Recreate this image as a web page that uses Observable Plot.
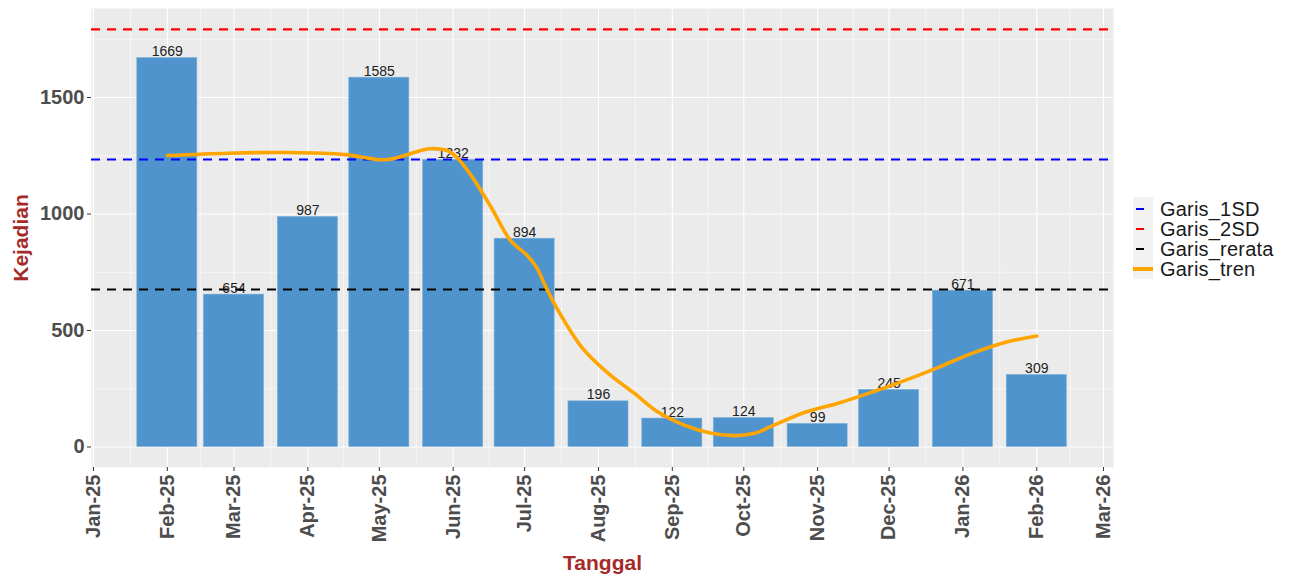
<!DOCTYPE html>
<html>
<head>
<meta charset="utf-8">
<script src="https://cdn.jsdelivr.net/npm/d3@7"></script>
<script src="https://cdn.jsdelivr.net/npm/@observablehq/plot@0.6"></script>
<style>
  body { margin: 0; background: #ffffff; }
  #wrap { position: relative; width: 1289px; height: 576px; font-family: "Liberation Sans", Arial, sans-serif; }
  #wrap svg g[aria-label="x-axis tick label"] text,
  #wrap svg g[aria-label="y-axis tick label"] text { font-weight: bold; fill: #4D4D4D; }
  #wrap svg g[aria-label="x-axis label"] text,
  #wrap svg g[aria-label="y-axis label"] text { font-weight: bold; fill: #A52A2A; font-size: 21px; }
  #legend { position: absolute; left: 1133px; top: 197px; }
  #legend .keybg { position: absolute; left: 0; top: 0; width: 20px; height: 82px; background: #F2F2F2; }
  #legend .row { position: absolute; left: 0; height: 20px; width: 160px; }
  #legend .key { position: absolute; top: 9px; }
  #legend .lab { position: absolute; left: 27px; top: 0px; font-size: 20px; line-height: 20px; height: 20px; color: #1A1A1A; white-space: nowrap; letter-spacing: 0.2px; }
</style>
</head>
<body>
<div id="wrap"></div>
<script>
// ---- data ----
const months = ["2025-02-01","2025-03-01","2025-04-01","2025-05-01","2025-06-01","2025-07-01","2025-08-01","2025-09-01","2025-10-01","2025-11-01","2025-12-01","2026-01-01","2026-02-01"];
const counts = [1669, 654, 987, 1585, 1232, 894, 196, 122, 124, 99, 245, 671, 309];
const tickDates = ["2025-01-01","2025-02-01","2025-03-01","2025-04-01","2025-05-01","2025-06-01","2025-07-01","2025-08-01","2025-09-01","2025-10-01","2025-11-01","2025-12-01","2026-01-01","2026-02-01","2026-03-01"];
const yTicks = [0, 500, 1000, 1500];
const yMinor = [250, 750, 1250, 1750];
const trendDates = ["2025-02-01","2025-02-27","2025-03-24","2025-04-17","2025-05-04","2025-05-22","2025-05-30","2025-06-03","2025-06-07","2025-06-10","2025-06-17","2025-06-25","2025-07-02","2025-07-06","2025-07-10","2025-07-15","2025-07-25","2025-08-05","2025-08-16","2025-08-26","2025-09-06","2025-09-17","2025-09-28","2025-10-06","2025-10-12","2025-10-27","2025-11-10","2025-11-24","2025-12-08","2025-12-22","2026-01-05","2026-01-19","2026-02-01"];
const trendValues = [1251, 1261, 1264, 1255, 1233, 1280, 1270, 1238, 1187, 1144, 1028, 887, 823, 771, 685, 587, 428, 317, 231, 150, 94, 60, 49, 60, 86, 150, 189, 236, 287, 343, 403, 450, 476];
const garisRerata = 676;
const garis1SD = 1234;
const garis2SD = 1792;
const legendItems = ["Garis_1SD", "Garis_2SD", "Garis_rerata", "Garis_tren"];
const legendColors = ["#0000FF", "#FF0000", "#000000", "#FFA500"];

// ---- build ----
const parse = d3.utcParse("%Y-%m-%d");
const bars = months.map((m, i) => ({date: parse(m), count: counts[i]}));
const trend = trendDates.map((m, i) => ({date: parse(m), value: trendValues[i]}));
const ticks = tickDates.map(parse);
const minorX = d3.pairs(ticks).map(([a, b]) => new Date((+a + +b) / 2));
const halfBar = 12.6 * 864e5;
const hlines = [
  {v: garis1SD, c: legendColors[0]},
  {v: garis2SD, c: legendColors[1]},
  {v: garisRerata, c: legendColors[2]}
];

const chart = Plot.plot({
  width: 1289,
  height: 576,
  marginLeft: 91,
  marginRight: 176,
  marginTop: 8,
  marginBottom: 109,
  style: {fontFamily: "'Liberation Sans', Arial, sans-serif", background: "white"},
  x: {type: "utc", domain: [new Date(Date.UTC(2024, 11, 31, 4)), new Date(Date.UTC(2026, 2, 5, 5))]},
  y: {domain: [-88, 1882]},
  marks: [
    Plot.frame({fill: "#EBEBEB", stroke: null}),
    Plot.ruleY(yMinor, {stroke: "white", strokeWidth: 0.55}),
    Plot.ruleX(minorX, {stroke: "white", strokeWidth: 0.55}),
    Plot.ruleY(yTicks, {stroke: "white", strokeWidth: 1.1}),
    Plot.ruleX(ticks, {stroke: "white", strokeWidth: 1.1}),
    Plot.rectY(bars, {
      x1: d => new Date(+d.date - halfBar),
      x2: d => new Date(+d.date + halfBar),
      y1: 0, y2: "count",
      fill: "#4F94CD", stroke: "#78AEDB", strokeWidth: 0.6
    }),
    Plot.text(bars, {x: "date", y: "count", text: d => String(d.count), lineAnchor: "bottom", dy: -2, fontSize: 14, fill: "#222"}),
    Plot.ruleY(hlines, {y: "v", stroke: "c", strokeWidth: 2.2, strokeDasharray: "9,7"}),
    Plot.line(trend, {x: "date", y: "value", stroke: "#FFA500", strokeWidth: 3.6, curve: "catmull-rom"}),
    Plot.axisY({ticks: yTicks, tickFormat: d => String(d), tickSize: 4, tickPadding: 3, fontSize: 20, color: "#333333",
      label: "Kejadian", labelAnchor: "center", labelArrow: "none", labelOffset: 78}),
    Plot.axisX({ticks: ticks, tickFormat: d3.utcFormat("%b-%y"), tickRotate: -90, tickSize: 4, tickPadding: 3,
      fontSize: 20, color: "#333333", label: "Tanggal", labelAnchor: "center", labelArrow: "none", labelOffset: 102})
  ]
});
const wrap = document.getElementById("wrap");
wrap.appendChild(chart);

// legend
const leg = document.createElement("div");
leg.id = "legend";
leg.innerHTML = '<div class="keybg"></div>';
legendItems.forEach((name, i) => {
  const row = document.createElement("div");
  row.className = "row";
  row.style.top = (2 + i * 20) + "px";
  const key = document.createElement("div");
  key.className = "key";
  const solid = i === 3;
  key.style.left = solid ? "0px" : "3px";
  key.style.width = solid ? "20px" : "8px";
  key.style.height = solid ? "4px" : "2px";
  key.style.marginTop = solid ? "-1px" : "0px";
  key.style.background = legendColors[i];
  const lab = document.createElement("div");
  lab.className = "lab";
  lab.textContent = name;
  row.appendChild(key);
  row.appendChild(lab);
  leg.appendChild(row);
});
wrap.appendChild(leg);
</script>
</body>
</html>
